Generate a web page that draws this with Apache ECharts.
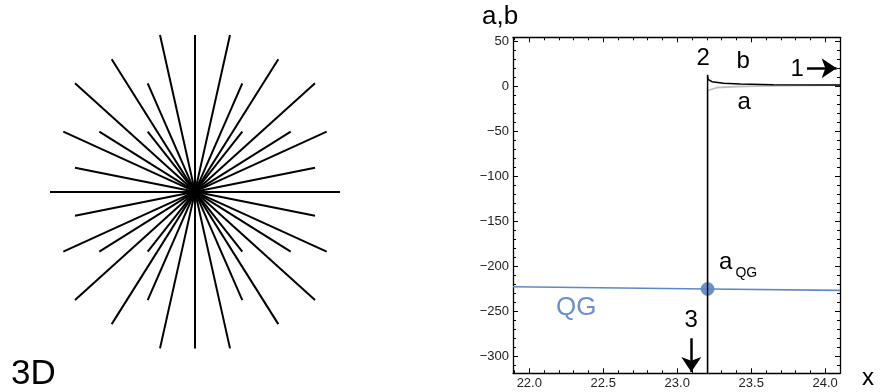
<!DOCTYPE html>
<html>
<head>
<meta charset="utf-8">
<script src="https://cdn.jsdelivr.net/npm/echarts@6.0.0/dist/echarts.min.js"></script>
<style>
  html, body { margin: 0; padding: 0; background: #fff; }
  #main { width: 880px; height: 392px; }
</style>
</head>
<body>
<div id="main"></div>
<script>
// star (left panel): one end of each ray, the ray runs through the centre to (-x,-y)
var starX = [0, -145, -35, 35, -83.3, 83.3, -120, 120, -47.3, 47.3, -131.7, 131.7, -95.7, 95.7, -47.3, 47.3, -120, 120];
var starY = [156.7, 0, 156.7, 156.7, 132.4, 132.4, 108.4, 108.4, 108.4, 108.4, 60, 60, 60, 60, 60, 60, 24, 24];

// right panel
var xTicks = [22.0, 22.5, 23.0, 23.5, 24.0];
var yTicks = [50, 0, -50, -100, -150, -200, -250, -300];

var aX = [23.205, 23.205, 23.217, 23.266, 23.4, 23.6, 24.1];
var aY = [-330, -4.5, -2.5, -1.4, -0.3, 0.6, 1.2];
var bX = [23.205, 23.205, 23.209, 23.234, 23.313, 23.426, 23.65, 24.1];
var bY = [-330, 12.8, 7.9, 5.2, 3.4, 2.7, 1.9, 1.5];
var qgX = [21.89, 23.205, 24.1];
var qgY = [-222.4, -224.9, -226.4];
var aqgPoint = [23.205, -224.9];

var labelText = ['2', 'b', '1', 'a', '3', 'a', 'QG', 'QG'];
var labelX = [23.175, 23.445, 23.81, 23.452, 23.094, 23.327, 23.467, 22.317];
var labelY = [31.5, 27.6, 19.3, -18.1, -259.9, -194.9, -207.7, -245.9];

var arrow1 = [[23.877, 20.1], [24.077, 20.1]];
var arrow3 = [[23.095, -279.6], [23.095, -317]];

var FONT = 'Liberation Sans, Arial, sans-serif';
var xMin = 21.89, xMax = 24.1, yMin = -318.5, yMax = 54.5;

// minor ticks between the major ones
var xMinor = [];
for (var i = 219; i <= 241; i++) {
  if (i % 5 != 0) xMinor.push(i / 10);
}
var yMinor = [];
for (var j = -310; j <= 50; j += 10) {
  if (j % 50 != 0) yMinor.push(j);
}

function frameAxis(dim, pos, ticks, len, withLine, withLabel) {
  var ax = {
    type: 'value',
    gridIndex: 1,
    position: pos,
    min: dim == 'x' ? xMin : yMin,
    max: dim == 'x' ? xMax : yMax,
    splitLine: { show: false },
    axisLine: { show: withLine, onZero: false, lineStyle: { color: '#000', width: 1.3 } },
    axisTick: { show: true, inside: true, length: len, customValues: ticks, lineStyle: { color: '#000', width: 1 } },
    axisLabel: { show: false }
  };
  if (withLabel) {
    ax.axisLabel = {
      show: true,
      customValues: ticks,
      color: '#222',
      fontFamily: FONT,
      fontSize: 13,
      margin: 4,
      formatter: function (v) {
        if (dim == 'x') return v.toFixed(1);
        return String(v).replace('-', '\u2212');
      }
    };
  }
  return ax;
}

var starLines = [];
for (var k = 0; k < starX.length; k++) {
  starLines.push({ coords: [[starX[k], starY[k]], [-starX[k], -starY[k]]] });
}

function pairs(xs, ys) {
  var out = [];
  for (var n = 0; n < xs.length; n++) out.push([xs[n], ys[n]]);
  return out;
}

var labelData = [];
for (var m = 0; m < labelText.length; m++) {
  var size = 24, color = '#000';
  if (m == 6) size = 14;
  if (m == 7) { size = 26; color = '#6a8fca'; }
  labelData.push({
    value: [labelX[m], labelY[m]],
    label: { show: true, position: 'inside', formatter: labelText[m], fontSize: size, color: color, fontFamily: FONT }
  });
}

var chart = echarts.init(document.getElementById('main'), null, { renderer: 'canvas' });
chart.setOption({
  animation: false,
  backgroundColor: '#fff',
  grid: [
    { left: 0, top: 0, width: 390, height: 392 },
    { left: 513, top: 37.3, width: 327, height: 336 }
  ],
  xAxis: [
    { type: 'value', gridIndex: 0, min: -195, max: 195, show: false },
    frameAxis('x', 'bottom', xTicks, 5, true, true),
    frameAxis('x', 'bottom', xMinor, 3, false, false),
    frameAxis('x', 'top', xTicks, 5, true, false),
    frameAxis('x', 'top', xMinor, 3, false, false)
  ],
  yAxis: [
    { type: 'value', gridIndex: 0, min: -200.3, max: 191.7, show: false },
    frameAxis('y', 'left', yTicks, 5, true, true),
    frameAxis('y', 'left', yMinor, 3, false, false),
    frameAxis('y', 'right', yTicks, 5, true, false),
    frameAxis('y', 'right', yMinor, 3, false, false)
  ],
  graphic: [
    { type: 'text', x: 482, y: 17, style: { text: 'a,b', font: '26px ' + FONT, fill: '#000', align: 'left', verticalAlign: 'middle' } },
    { type: 'text', x: 868, y: 378, style: { text: 'x', font: '24px ' + FONT, fill: '#000', align: 'center', verticalAlign: 'middle' } },
    { type: 'text', x: 11, y: 374, style: { text: '3D', font: '35px ' + FONT, fill: '#000', align: 'left', verticalAlign: 'middle' } }
  ],
  series: [
    {
      type: 'lines', coordinateSystem: 'cartesian2d', xAxisIndex: 0, yAxisIndex: 0,
      lineStyle: { color: '#000', width: 2, opacity: 1 },
      data: starLines
    },
    {
      type: 'line', xAxisIndex: 1, yAxisIndex: 1, showSymbol: false, symbol: 'none',
      lineStyle: { color: '#bdbdbd', width: 1.6 },
      data: pairs(aX, aY)
    },
    {
      type: 'line', xAxisIndex: 1, yAxisIndex: 1, showSymbol: false, symbol: 'none',
      lineStyle: { color: '#6088c6', width: 1.6 },
      data: pairs(qgX, qgY)
    },
    {
      type: 'line', xAxisIndex: 1, yAxisIndex: 1, showSymbol: false, symbol: 'none',
      lineStyle: { color: '#000', width: 1.5 },
      data: pairs(bX, bY)
    },
    {
      type: 'scatter', xAxisIndex: 1, yAxisIndex: 1, symbolSize: 13,
      itemStyle: { color: '#6592cf', borderColor: '#4f78b3', borderWidth: 0.6, opacity: 1 },
      data: [aqgPoint]
    },
    {
      type: 'lines', coordinateSystem: 'cartesian2d', xAxisIndex: 1, yAxisIndex: 1,
      symbol: ['none', 'arrow'], symbolSize: [11, 15],
      lineStyle: { color: '#000', width: 2.5, opacity: 1 },
      data: [{ coords: arrow1 }, { coords: arrow3 }]
    },
    {
      type: 'scatter', xAxisIndex: 1, yAxisIndex: 1, symbolSize: 0, clip: false,
      itemStyle: { opacity: 1 },
      data: labelData
    }
  ]
});
</script>
</body>
</html>
